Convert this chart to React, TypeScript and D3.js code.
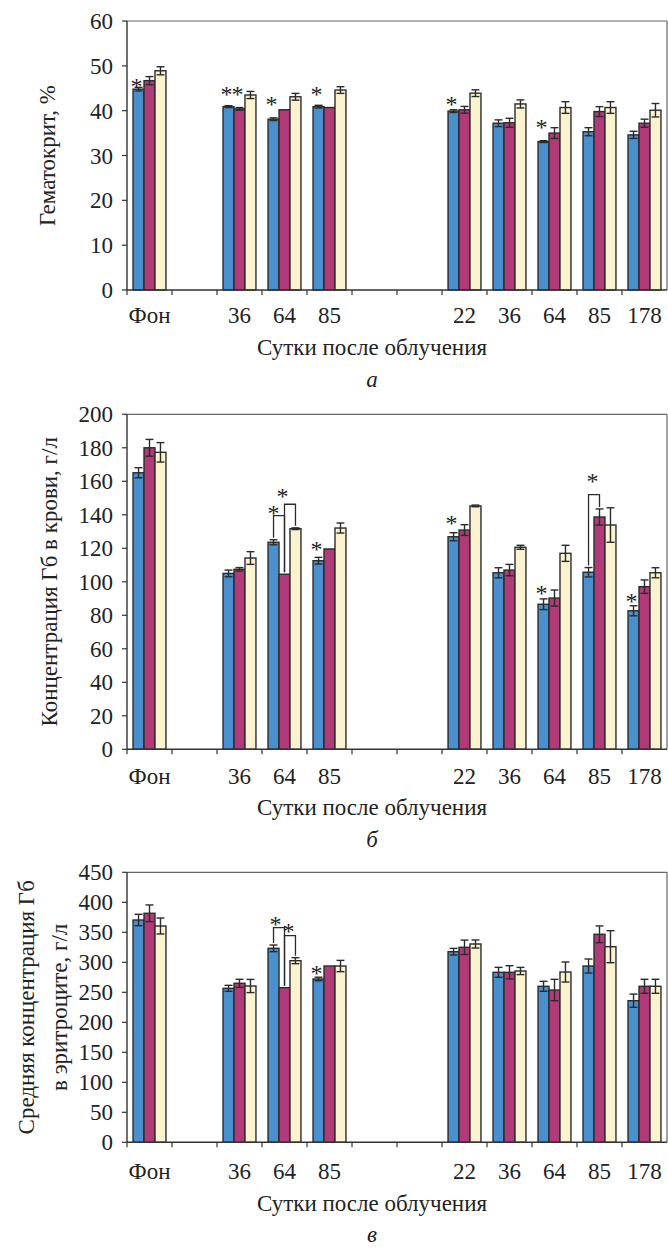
import React from 'react';
import * as d3 from 'd3';

// categories along the x axis (empty slots are the gaps in the figure)
const categories = ['Фон', '', '36', '64', '85', '', '', '22', '36', '64', '85', '178'];
const seriesKeys = ['s1', 's2', 's3'];
const seriesColors = ['#4a90ce', '#b03b78', '#fbf3d0'];

// а — Гематокрит, %
const hctS1 = [44.8, null, 40.9, 38.1, 40.9, null, null, 39.9, 37.2, 33.1, 35.3, 34.6];
const hctS1Err = [0.4, 0, 0.2, 0.3, 0.3, 0, 0, 0.3, 0.75, 0.2, 0.9, 0.8];
const hctS2 = [46.7, null, 40.4, 40.2, 40.7, null, null, 40.2, 37.3, 35.0, 39.8, 37.2];
const hctS2Err = [0.9, 0, 0.3, 0, 0, 0, 0, 0.75, 1.0, 1.2, 1.1, 0.9];
const hctS3 = [48.9, null, 43.5, 43.1, 44.6, null, null, 43.9, 41.5, 40.7, 40.7, 40.1];
const hctS3Err = [0.9, 0, 0.8, 0.75, 0.75, 0, 0, 0.75, 0.9, 1.3, 1.3, 1.5];
// [category index, series index, level, x nudge]
const hctStars = [[0, 0, 46.5], [2, 0, 44.6], [2, 1, 44.6], [3, 0, 42.4], [4, 0, 44.6], [7, 0, 42.4], [9, 0, 37.3]];
const hctBrackets: number[][] = [];

// б — Концентрация Гб в крови, г/л
const hbS1 = [165.1, null, 105, 123.6, 112.6, null, null, 126.9, 105.4, 86.6, 105.7, 82.7];
const hbS1Err = [3, 0, 2, 1.5, 2, 0, 0, 2.4, 3, 3.2, 2.8, 3];
const hbS2 = [180, null, 107.5, 104.5, 119.6, null, null, 130.9, 107, 90.3, 138.7, 97.1];
const hbS2Err = [5, 0, 1, 0, 0, 0, 0, 3.2, 3.4, 4.8, 4.8, 4];
const hbS3 = [177.3, null, 114.2, 131.7, 132.1, null, null, 145.3, 120.6, 117, 133.9, 105.4];
const hbS3Err = [5.8, 0, 3.8, 0.5, 3, 0, 0, 0.5, 1.2, 4.8, 10.3, 3];
const hbStars = [[3, 0, 143.5, 2], [3, 1, 153.8, 0], [4, 0, 122], [7, 0, 137.3], [9, 0, 95.7], [10, 0, 162.4, 6], [11, 0, 90.7]];
// [category index, from series, to series, level]
const hbBrackets = [[3, 0, 1, 139.5], [3, 1, 2, 146.3], [10, 0, 1, 152]];

// в — Средняя концентрация Гб в эритроците, г/л
const mchcS1 = [370.5, null, 256.6, 323.3, 272.2, null, null, 317.7, 283.3, 260, 293.8, 236];
const mchcS1Err = [9.5, 0, 5, 5.5, 3, 0, 0, 5.5, 8.3, 8.3, 11.7, 11];
const mchcS2 = [381.7, null, 265, 257.7, 293.8, null, null, 325, 283.3, 253.8, 346.7, 260];
const mchcS2Err = [13.9, 0, 6.7, 0, 0, 0, 0, 12, 11, 17.8, 13.9, 11.7];
const mchcS3 = [360.5, null, 260.5, 302.7, 293.8, null, null, 330.5, 285.5, 283.8, 326, 260];
const mchcS3Err = [13.3, 0, 11, 5, 9.4, 0, 0, 6.7, 6, 16.7, 26.7, 11.7];
const mchcStars = [[3, 0, 370.5, 4], [3, 1, 359.3, 6], [4, 0, 288.3]];
const mchcBrackets = [[3, 0, 1, 357.7], [3, 1, 2, 344.3]];

const xTitle = 'Сутки после облучения';
const FONT = '"Liberation Serif", "Times New Roman", serif';
const FS = 23;
const W = 668;
const H = 1248;
const left = 127;
const right = 667;

const panels = [
  {
    top: 21, bottom: 290, max: 60, step: 10, titleX: [47], title: ['Гематокрит, %'],
    caption: 'а', labelY: 323, titleY: 355, capY: 387,
    values: [hctS1, hctS2, hctS3], errs: [hctS1Err, hctS2Err, hctS3Err],
    stars: hctStars, brackets: hctBrackets,
  },
  {
    top: 414.3, bottom: 749.3, max: 200, step: 20, titleX: [49], title: ['Концентрация Гб в крови, г/л'],
    caption: 'б', labelY: 784, titleY: 815, capY: 847,
    values: [hbS1, hbS2, hbS3], errs: [hbS1Err, hbS2Err, hbS3Err],
    stars: hbStars, brackets: hbBrackets,
  },
  {
    top: 872.3, bottom: 1142.3, max: 450, step: 50, titleX: [26, 59],
    title: ['Средняя концентрация Гб', 'в эритроците, г/л'],
    caption: 'в', labelY: 1179, titleY: 1211, capY: 1242,
    values: [mchcS1, mchcS2, mchcS3], errs: [mchcS1Err, mchcS2Err, mchcS3Err],
    stars: mchcStars, brackets: mchcBrackets,
  },
];

const x0 = d3.scaleBand<number>().domain(d3.range(categories.length)).range([left, right]).padding(0);
const x1 = d3.scaleBand<string>().domain(seriesKeys).range([0, x0.bandwidth()]).paddingInner(0).paddingOuter(0.55);
const bw = x1.bandwidth();
const cx = (c: number, s: number) => (x0(c) as number) + (x1(seriesKeys[s]) as number) + bw / 2;

function Panel({ p }: { p: typeof panels[number] }) {
  const y = d3.scaleLinear().domain([0, p.max]).range([p.bottom, p.top]);
  const ticks = d3.range(0, p.max + p.step / 2, p.step);
  const midY = (p.top + p.bottom) / 2;
  const topOf = (c: number, s: number) => (p.values[s][c] as number) + p.errs[s][c];
  const capW = bw * 0.72;

  return (
    <g>
      {/* bars */}
      {p.values.map((vals, s) =>
        vals.map((v, c) =>
          v == null ? null : (
            <rect key={`b${s}-${c}`} x={(x0(c) as number) + (x1(seriesKeys[s]) as number)} y={y(v)}
              width={bw} height={y(0) - y(v)} fill={seriesColors[s]} stroke="#2b2b2b" strokeWidth={1.4} />
          )
        )
      )}
      {/* error bars */}
      {p.values.map((vals, s) =>
        vals.map((v, c) => {
          const e = p.errs[s][c];
          if (v == null || !e) return null;
          const xc = cx(c, s);
          return (
            <g key={`e${s}-${c}`} stroke="#2b2b2b" strokeWidth={1.4}>
              <line x1={xc} x2={xc} y1={y(v - e)} y2={y(v + e)} />
              <line x1={xc - capW / 2} x2={xc + capW / 2} y1={y(v + e)} y2={y(v + e)} />
              <line x1={xc - capW / 2} x2={xc + capW / 2} y1={y(v - e)} y2={y(v - e)} />
            </g>
          );
        })
      )}
      {/* brackets */}
      {p.brackets.map(([c, a, b, lvl], i) => (
        <path key={`br${i}`} fill="none" stroke="#2b2b2b" strokeWidth={1.3}
          d={`M${cx(c, a)},${y(topOf(c, a)) - 2}V${y(lvl)}H${cx(c, b)}V${y(topOf(c, b)) - 2}`} />
      ))}
      {/* asterisks */}
      {p.stars.map(([c, s, lvl, dx], i) => (
        <text key={`st${i}`} x={cx(c, s) - 2 + (dx || 0)} y={y(lvl) + 12} textAnchor="middle"
          fontFamily={FONT} fontSize={24} fill="#222">*</text>
      ))}
      {/* frame */}
      <line x1={left} x2={right} y1={p.top} y2={p.top} stroke="#666" strokeWidth={1.2} />
      <line x1={right} x2={right} y1={p.top} y2={p.bottom} stroke="#666" strokeWidth={1.2} />
      <line x1={left} x2={right} y1={p.bottom} y2={p.bottom} stroke="#333" strokeWidth={1.4} />
      <line x1={left} x2={left} y1={p.top} y2={p.bottom} stroke="#333" strokeWidth={1.4} />
      {/* y ticks */}
      {ticks.map(t => (
        <g key={`yt${t}`}>
          <line x1={left - 5} x2={left} y1={y(t)} y2={y(t)} stroke="#333" strokeWidth={1.2} />
          <text x={113} y={y(t)} dy="0.35em" textAnchor="end" fontFamily={FONT} fontSize={FS} fill="#222">{t}</text>
        </g>
      ))}
      {/* x ticks */}
      {d3.range(categories.length).map(c => (
        <line key={`xt${c}`} x1={x0(c) as number} x2={x0(c) as number} y1={p.bottom} y2={p.bottom + 5}
          stroke="#333" strokeWidth={1.2} />
      ))}
      {categories.map((lab, c) => (
        <text key={`xl${c}`} x={(x0(c) as number) + x0.bandwidth() / 2} y={p.labelY} textAnchor="middle"
          fontFamily={FONT} fontSize={FS} fill="#222">{lab}</text>
      ))}
      <text x={372} y={p.titleY} textAnchor="middle" fontFamily={FONT} fontSize={FS} fill="#222">{xTitle}</text>
      <text x={372} y={p.capY} textAnchor="middle" fontFamily={FONT} fontStyle="italic" fontSize={FS} fill="#222">{p.caption}</text>
      {p.title.map((t, i) => (
        <text key={`yl${i}`} transform={`translate(${p.titleX[i]},${midY}) rotate(-90)`} textAnchor="middle"
          dominantBaseline="central" fontFamily={FONT} fontSize={FS} fill="#222">{t}</text>
      ))}
    </g>
  );
}

export default function App() {
  return (
    <svg width={W} height={H} viewBox={`0 0 ${W} ${H}`}
      style={{ position: 'absolute', left: 0, top: 0, background: '#fff', display: 'block' }}>
      <rect width={W} height={H} fill="#fff" />
      {panels.map((p, i) => <Panel key={i} p={p} />)}
    </svg>
  );
}
